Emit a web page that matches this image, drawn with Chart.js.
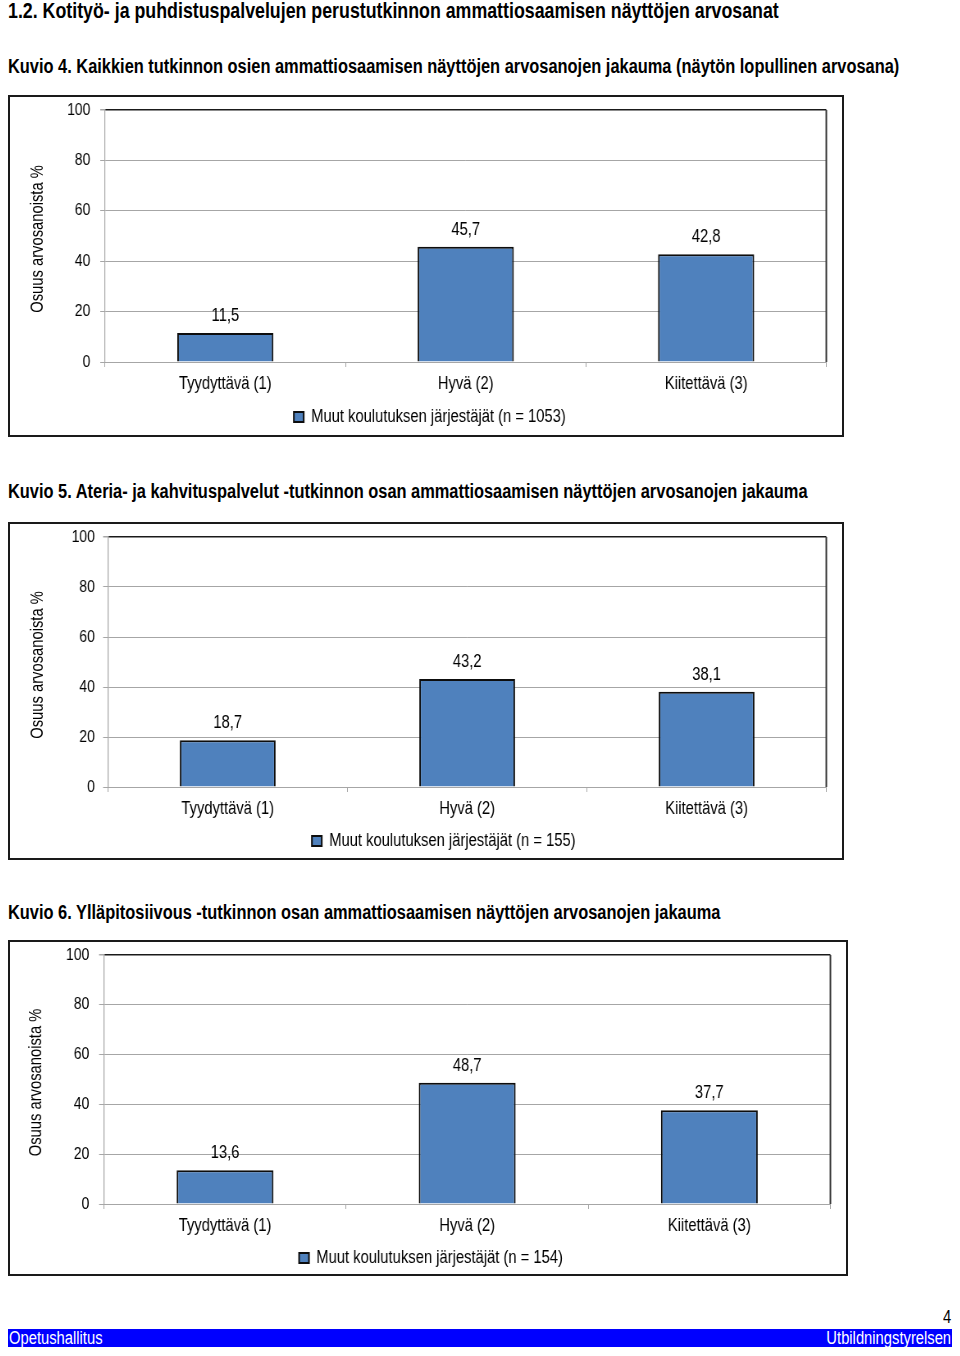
<!DOCTYPE html>
<html lang="fi">
<head>
<meta charset="utf-8">
<script src="https://cdn.jsdelivr.net/npm/chart.js@4/dist/chart.umd.min.js"></script>
<style>
  html, body { margin: 0; padding: 0; background: #fff; }
  body { width: 960px; height: 1356px; position: relative; overflow: hidden;
         font-family: "Liberation Sans", Arial, sans-serif; color: #000; }
  .h { position: absolute; left: 8px; white-space: nowrap; font-weight: bold;
       transform: scaleX(0.82); transform-origin: 0 0; }
  .box { position: absolute; border: 2px solid #1a1a1a; box-sizing: border-box; background: #fff; }
  .box canvas { display: block; transform: scaleX(0.82); transform-origin: 0 0; }
  .footer { position: absolute; left: 8px; top: 1329px; width: 944px; height: 18px; background: #0000FF;
            color: #fff; font-size: 18px; line-height: 18px; }
  .footer .l { position: absolute; left: 1px; top: 0; transform: scaleX(0.82); transform-origin: 0 0; white-space: nowrap; }
  .footer .r { position: absolute; right: 1px; top: 0; transform: scaleX(0.82); transform-origin: 100% 0; white-space: nowrap; }
  .pagenum { position: absolute; left: 943px; top: 1308px; font-size: 18px; line-height: 18px;
             transform: scaleX(0.82); transform-origin: 0 0; }
</style>
</head>
<body>
<div class="h" style="top:0px;font-size:21.7px;line-height:22px;">1.2. Kotityö- ja puhdistuspalvelujen perustutkinnon ammattiosaamisen näyttöjen arvosanat</div>
<div class="h" style="top:55px;font-size:20px;line-height:22px;">Kuvio 4. Kaikkien tutkinnon osien ammattiosaamisen näyttöjen arvosanojen jakauma (näytön lopullinen arvosana)</div>
<div class="box" style="left:8px;top:95px;width:836px;height:342px;"><canvas id="c1" width="1015" height="338"></canvas></div>
<div class="h" style="top:480px;font-size:20px;line-height:22px;">Kuvio 5. Ateria- ja kahvituspalvelut -tutkinnon osan ammattiosaamisen näyttöjen arvosanojen jakauma</div>
<div class="box" style="left:8px;top:522px;width:836px;height:338px;"><canvas id="c2" width="1015" height="334"></canvas></div>
<div class="h" style="top:901px;font-size:20px;line-height:22px;">Kuvio 6. Ylläpitosiivous -tutkinnon osan ammattiosaamisen näyttöjen arvosanojen jakauma</div>
<div class="box" style="left:8px;top:940px;width:840px;height:336px;"><canvas id="c3" width="1020" height="332"></canvas></div>
<div class="pagenum">4</div>
<div class="footer"><span class="l">Opetushallitus</span><span class="r">Utbildningstyrelsen</span></div>

<script>
// ---- data ----
const categories = ['Tyydyttävä (1)', 'Hyvä (2)', 'Kiitettävä (3)'];
const valuesKuvio4 = [11.5, 45.7, 42.8];
const valuesKuvio5 = [18.7, 43.2, 38.1];
const valuesKuvio6 = [13.6, 48.7, 37.7];
const seriesKuvio4 = 'Muut koulutuksen järjestäjät (n = 1053)';
const seriesKuvio5 = 'Muut koulutuksen järjestäjät (n = 155)';
const seriesKuvio6 = 'Muut koulutuksen järjestäjät (n = 154)';
const yTickValues = [0, 20, 40, 60, 80, 100];
const yAxisTitle = 'Osuus arvosanoista %';

const K = 0.82; // horizontal condensation applied to the canvas (narrow typeface look)
const FONT = '"Liberation Sans", Arial, sans-serif';
const BAR_FILL = '#4F81BD';
const GRID = '#A6A6A6';

const valueLabels = {
  id: 'valueLabels',
  afterDatasetsDraw(chart) {
    const ctx = chart.ctx;
    ctx.save();
    ctx.font = '18px ' + FONT;
    ctx.fillStyle = '#000';
    ctx.textAlign = 'center';
    ctx.textBaseline = 'middle';
    chart.getDatasetMeta(0).data.forEach((bar, i) => {
      const v = chart.data.datasets[0].data[i];
      ctx.fillText(v.toFixed(1).replace('.', ','), bar.x, bar.y - 17);
    });
    ctx.restore();
  }
};

const plotFrame = {
  id: 'plotFrame',
  beforeDatasetsDraw(chart) {
    const a = chart.chartArea, ctx = chart.ctx;
    ctx.save();
    ctx.strokeStyle = '#3a3a3a';
    ctx.lineWidth = 2;
    ctx.beginPath();
    ctx.moveTo(a.right, a.top);
    ctx.lineTo(a.right, a.bottom);
    ctx.stroke();
    ctx.restore();
  }
};

// y-axis title drawn upright-proportioned despite the canvas condensation
function condensedTitle(titleX) {
  return function () {
    const t = this.options.title;
    if (!t.display) return;
    const ctx = this.ctx;
    const cy = (this.top + this.bottom) / 2 + 3;
    ctx.save();
    ctx.translate(titleX, cy);
    ctx.scale(1 / K, 1);
    ctx.rotate(-Math.PI / 2);
    ctx.scale(K, 1);
    ctx.font = t.font.size + 'px ' + FONT;
    ctx.fillStyle = t.color;
    ctx.textAlign = 'center';
    ctx.textBaseline = 'middle';
    ctx.fillText(t.text, 0, 0);
    ctx.restore();
  };
}

function makeChart(id, values, label, L) {
  return new Chart(document.getElementById(id), {
    type: 'bar',
    data: {
      labels: categories,
      datasets: [{
        label: label,
        data: values,
        backgroundColor: BAR_FILL,
        borderColor: '#0d0d0d',
        borderWidth: 2,
        borderSkipped: 'bottom',
        categoryPercentage: 0.4,
        barPercentage: 1.0
      }]
    },
    options: {
      responsive: false,
      animation: false,
      events: [],
      layout: { padding: { top: L.padTop, right: L.padRight, left: L.padLeft, bottom: L.padBottom } },
      plugins: {
        tooltip: { enabled: false },
        title: { display: false },
        legend: {
          display: true,
          position: 'bottom',
          labels: {
            color: '#000',
            font: { family: FONT, size: 18 },
            boxWidth: 12,
            boxHeight: 10,
            padding: 10
          }
        }
      },
      scales: {
        x: {
          offset: true,
          afterFit(s) { s.height = L.xHeight; },
          grid: { display: true, drawOnChartArea: false, drawTicks: true, tickLength: 5, offset: true,
                  color: GRID, tickColor: GRID },
          border: { display: true, color: GRID, width: 1 },
          ticks: { color: '#000', font: { family: FONT, size: 18 }, padding: L.xPad, maxRotation: 0 }
        },
        y: {
          min: 0, max: 100,
          afterFit(s) {
            s.width = L.yWidth; s.paddingTop = 0; s.paddingBottom = 0;
            s.drawTitle = condensedTitle(L.titleX);
          },
          afterBuildTicks(s) { s.ticks = yTickValues.map(v => ({ value: v })); },
          grid: {
            color: (c) => (c.tick && c.tick.value === 100) ? '#1a1a1a' : GRID,
            lineWidth: (c) => (c.tick && c.tick.value === 100) ? 1.5 : 1,
            tickColor: GRID, tickLength: 6, drawTicks: true
          },
          border: { display: true, color: GRID, width: 1.2 },
          ticks: { color: '#000', font: { family: FONT, size: 17 }, padding: L.yPad },
          title: { display: true, text: yAxisTitle, color: '#000', font: { family: FONT, size: 18 } }
        }
      }
    },
    plugins: [plotFrame, valueLabels]
  });
}

makeChart('c1', valuesKuvio4, seriesKuvio4, { padTop: 13, padRight: 19.5, padLeft: 28.5, padBottom: -1, yWidth: 87.5, xHeight: 36, xPad: 6, yPad: 12, titleX: 34 });
makeChart('c2', valuesKuvio5, seriesKuvio5, { padTop: 13, padRight: 19.5, padLeft: 62.5, padBottom: -2, yWidth: 57, xHeight: 35, xPad: 6, yPad: 10, titleX: 34 });
makeChart('c3', valuesKuvio6, seriesKuvio6, { padTop: 13, padRight: 19.5, padLeft: 26.3, padBottom: -3, yWidth: 88.3, xHeight: 35, xPad: 6, yPad: 12, titleX: 31.7 });
</script>
</body>
</html>
